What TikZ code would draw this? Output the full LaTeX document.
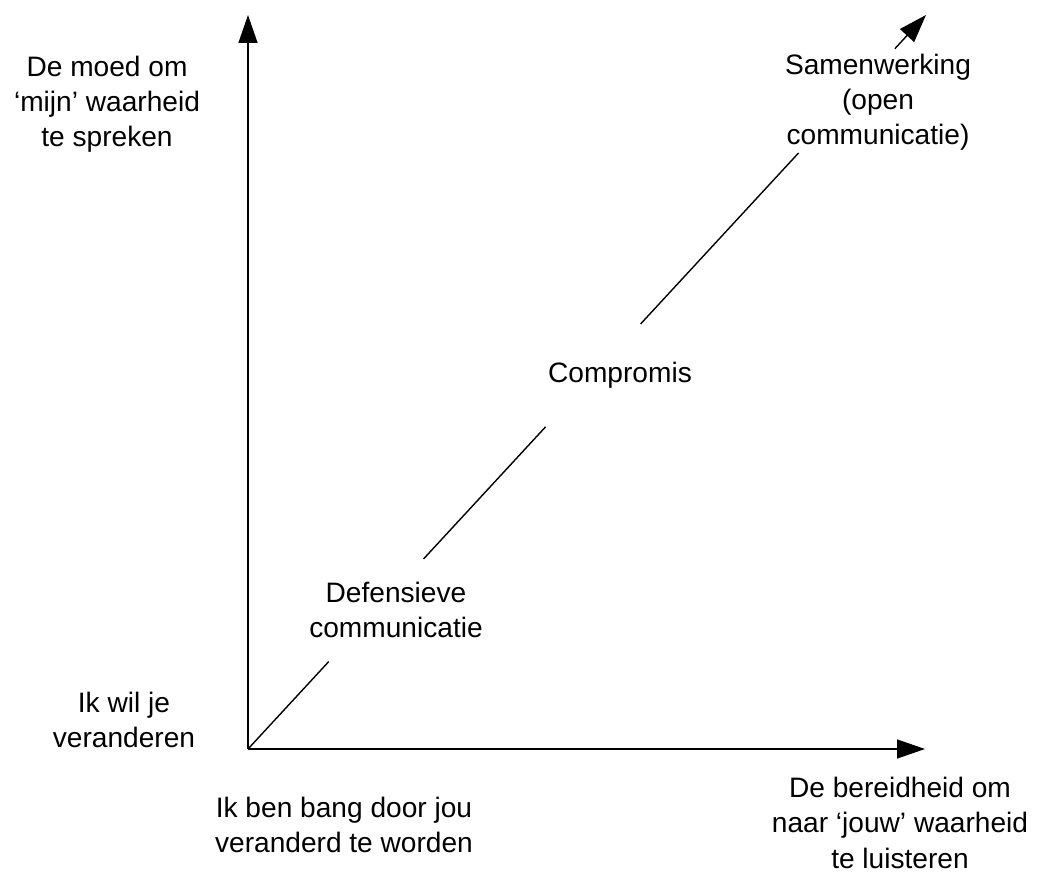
\documentclass[tikz,border=0pt]{standalone}
\usepackage{fontspec}
\setmainfont{Liberation Sans}
\usetikzlibrary{arrows.meta,calc}

\begin{document}
\begin{tikzpicture}
[
	x=0.02cm, y=-0.02cm,
	lbl/.style={align=center,anchor=north,inner sep=0,font=\fontsize{16}{20}\selectfont},
	ax/.style={line width=0.8pt,-{Triangle[length=0.56cm,width=0.38cm]}},
	dg/.style={line width=0.8pt}
]
\useasboundingbox (0,0) rectangle (1038,874);

\coordinate (o) at (248,749);
\coordinate (ytop) at (248,15);
\coordinate (xend) at (925,749);
\coordinate (dtop) at (926,15);

\node[lbl] (moed) at (107,56) {De moed om\\‘mijn’ waarheid\\te spreken};
\node[lbl] (wil) at (124,692) {Ik wil je\\veranderen};
\node[lbl] (bang) at (344,797) {Ik ben bang door jou\\veranderd te worden};
\node[lbl] (bereid) at (900,777) {De bereidheid om\\naar ‘jouw’ waarheid\\te luisteren};

\node[lbl] (def) at (396,582) {Defensieve\\communicatie};
\node[lbl] (comp) at (620,362) {Compromis};
\node[lbl] (samen) at (878,54) {Samenwerking\\(open\\communicatie)};

\draw[ax]	(o)	--	(ytop);
\draw[ax]	(o)	--	(xend);

\draw[dg]	(o)	--	($(o)!0.119!(dtop)$);
\draw[dg]	($(o)!0.259!(dtop)$)	--	($(o)!0.439!(dtop)$);
\draw[dg]	($(o)!0.579!(dtop)$)	--	($(o)!0.812!(dtop)$);
\draw[ax]	($(o)!0.954!(dtop)$)	--	(dtop);

\end{tikzpicture}
\end{document}
